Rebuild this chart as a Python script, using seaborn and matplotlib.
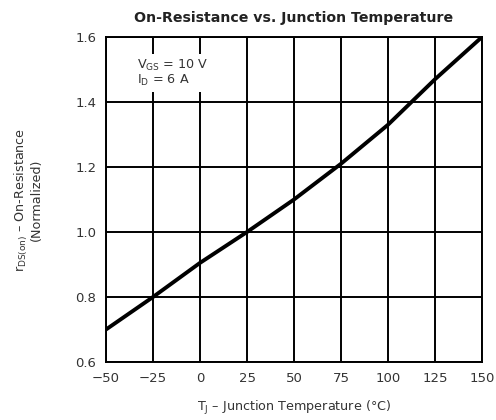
import matplotlib
matplotlib.use("Agg")
import matplotlib.pyplot as plt
import seaborn as sns
import pandas as pd

temps = [-50, -25, 0, 25, 50, 75, 100, 125, 150]
rds_norm = [0.70, 0.80, 0.905, 1.00, 1.10, 1.21, 1.33, 1.47, 1.60]
x_ticks = [-50, -25, 0, 25, 50, 75, 100, 125, 150]
y_ticks = [0.6, 0.8, 1.0, 1.2, 1.4, 1.6]
y_labels = ["0.6", "0.8", "1.0", "1.2", "1.4", "1.6"]

sns.set_style("white")
plt.rcParams['font.family'] = ['DejaVu Sans']

df = pd.DataFrame({"T": temps, "R": rds_norm})
fig = plt.figure(figsize=(4.96, 4.2), dpi=100)
ax = fig.add_axes([106/496, 1 - 362/420, (482-106)/496, (362-37)/420])

sns.lineplot(data=df, x="T", y="R", ax=ax, color="black", linewidth=2.8, zorder=5)

ax.set_xlim(-50, 150)
ax.set_ylim(0.6, 1.6)
ax.set_xticks(x_ticks)
ax.set_yticks(y_ticks)
ax.set_yticklabels(y_labels)
ax.set_xticklabels(["\u221250" if v == -50 else ("\u221225" if v == -25 else str(v)) for v in x_ticks])
ax.grid(True, color="black", linewidth=1.4)
ax.set_axisbelow(True)
for s in ax.spines.values():
    s.set_color("black")
    s.set_linewidth(1.4)
ax.tick_params(axis="both", length=0, labelsize=9.5, colors="#333333", pad=7)

ax.set_title("On-Resistance vs. Junction Temperature", fontsize=10.2, fontweight="bold",
             color="#222222", pad=11)
ax.set_xlabel("T$_\\mathregular{J}$ \u2013 Junction Temperature (\u00b0C)", fontsize=9.2,
              color="#333333", labelpad=10)
ax.set_ylabel("r$_\\mathregular{DS(on)}$ \u2013 On-Resistance\n(Normalized)", fontsize=9.2,
              color="#333333", labelpad=23, linespacing=1.0)

ax.text(-33.5, 1.49, "V$_\\mathregular{GS}$ = 10 V\nI$_\\mathregular{D}$ = 6 A", fontsize=9.2,
        color="#333333", va="center", ha="left", linespacing=0.95,
        bbox=dict(facecolor="white", edgecolor="none", pad=3), zorder=6)

fig.savefig("out.png", dpi=100)
